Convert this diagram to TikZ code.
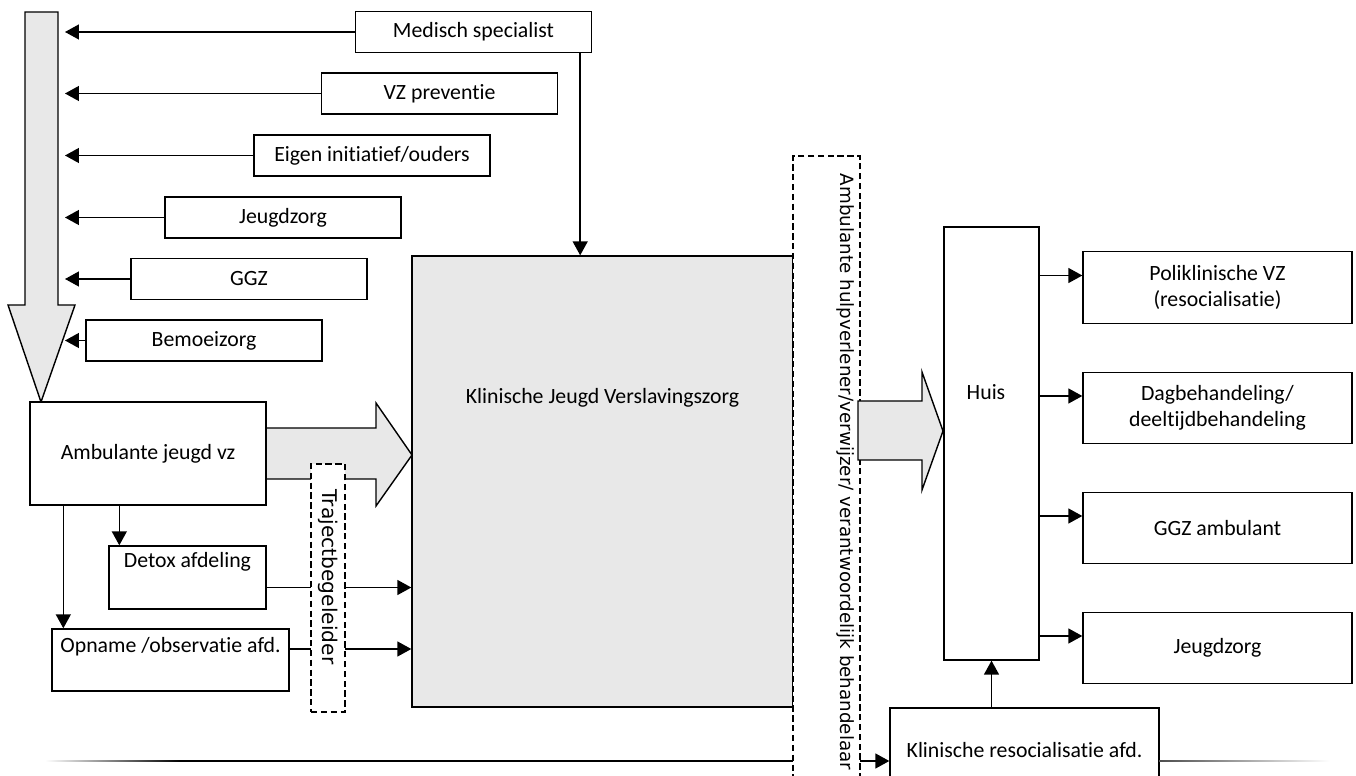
\documentclass[tikz,border=0pt]{standalone}
\usepackage{fontspec}
\setmainfont{Carlito}[Ligatures={NoCommon}]
\newfontfamily\rotfont{DejaVu Sans}
\usepackage{xcolor}
\definecolor{flowgrey}{RGB}{232,232,232}
\usetikzlibrary{arrows.meta, positioning, calc}

\begin{document}
\begin{tikzpicture}[
  x=0.02cm, y=-0.02cm,
  line width=0.8pt,
  font=\fontsize{12.4}{15}\selectfont,
  box/.style={draw, fill=white, inner sep=0pt, align=center,
    minimum width=4.72cm, minimum height=0.82cm},
  greybox/.style={box, fill=flowgrey},
  dashbox/.style={draw, fill=white, inner sep=0pt,
    dash pattern=on 3.6pt off 2pt},
  sidetext/.style={rotate=-90, inner sep=0pt, font=\rotfont\fontsize{#1}{14}\selectfont},
  arr/.style={-{Triangle[length=0.28cm, width=0.3cm]}},
]
\useasboundingbox (0,0) rectangle (1356,776);

\node[box] (med) at (473.5,32) {Medisch specialist};
\node[box] (vzp) at (439.5,93.5) {VZ preventie};
\node[box] (eigen) at (372,155.5) {Eigen initiatief/ouders};
\node[box] (jzin) at (283,217.5) {Jeugdzorg};
\node[box] (ggz) at (249,279) {GGZ};
\node[box] (bemoei) at (204,340.5) {Bemoeizorg};

\filldraw[fill=flowgrey] (25,12) -- (58,12) -- (58,305) -- (75,305) -- (41,402)
  -- (8,305) -- (25,305) -- cycle;

\coordinate (inflow) at (65,0);
\foreach \n in {med,vzp,eigen,jzin,ggz,bemoei}
  \draw[arr] (\n) -- (\n -| inflow);

\node[greybox, minimum width=7.62cm, minimum height=9.02cm] (kjv) at (602.5,481.5) {};
\node (kjvtxt) at (602.5,398) {Klinische Jeugd Verslavingszorg};

\coordinate (medout) at ($(med.south east)+(-12,0)$);
\draw[arr] (medout) -- (medout |- kjv.north);

\filldraw[fill=flowgrey] (266,428) -- (376,428) -- (376,403) -- (412,455)
  -- (376,506) -- (376,479) -- (266,479) -- cycle;
\node[box, minimum height=2.06cm] (amb) at (148,453.5) {Ambulante jeugd vz};

\node[box, minimum width=3.14cm, minimum height=1.26cm] (detox) at (187.5,577.5) {};
\node (detoxtxt) at ($(detox.north)+(0,17)$) {Detox afdeling};
\node[box, minimum width=4.74cm, minimum height=1.24cm] (opn) at (170.5,660) {};
\node (opntxt) at ($(opn.north)+(0,18)$) {Opname /observatie afd.};

\coordinate (todetox) at ($(amb.south west)+(90,0)$);
\coordinate (toopn) at ($(amb.south west)+(34,0)$);
\draw[arr] (todetox) -- (todetox |- detox.north);
\draw[arr] (toopn) -- (toopn |- opn.north);

\coordinate (detoxout) at ($(detox.east)+(0,10)$);
\coordinate (opnout) at ($(opn.east)+(0,-11)$);
\draw[arr] (detoxout) -- (detoxout -| kjv.west);
\draw[arr] (opnout) -- (opnout -| kjv.west);

\node[dashbox, minimum width=0.68cm, minimum height=4.96cm] (traj) at (328,588) {};
\node[sidetext=11.5] (trajtxt) at (328,577) {Trajectbegeleider};

\node[box, minimum width=1.9cm, minimum height=8.66cm] (huis) at (991.5,443.5) {};
\node (huistxt) at (986,392) {Huis};

\node[box, minimum width=5.38cm, minimum height=1.7cm] (reso) at (1024.5,750.5) {Klinische resocialisatie afd.};
\draw[arr] (reso.north -| huis.south) -- (huis.south);

\coordinate (botline) at (180,761);
\shade[left color=white, right color=black] (45,760.4) rectangle (180,761.6);
\draw[arr] (botline) -- (botline -| reso.west);
\shade[left color=black!70, right color=white] (1159,760.4) rectangle (1330,761.6);

\node[dashbox, minimum width=1.34cm, minimum height=12.9cm] (ahv) at (826.5,478.5) {};
\node[sidetext=10.4] (ahvtxt) at (846,472) {Ambulante hulpverlener/verwijzer/ verantwoordelijk behandelaar};

\filldraw[fill=flowgrey] (858,401) -- (922,401) -- (922,372) -- (943,431)
  -- (922,490) -- (922,460) -- (858,460) -- cycle;

\node[box, minimum width=5.38cm, minimum height=1.43cm] (poli) at (1217.5,287.5) {Poliklinische VZ\\(resocialisatie)};
\node[box, minimum width=5.38cm, minimum height=1.43cm] (dag) at (1217.5,408) {Dagbehandeling/\\deeltijdbehandeling};
\node[box, minimum width=5.38cm, minimum height=1.43cm] (ggza) at (1217.5,528) {GGZ ambulant};
\node[box, minimum width=5.38cm, minimum height=1.43cm] (jzout) at (1217.5,648) {Jeugdzorg};

\foreach \n in {poli,dag,ggza,jzout} {
  \coordinate (tip) at ($(\n.west)+(0,-12)$);
  \draw[arr] (tip -| huis.east) -- (tip);
}
\end{tikzpicture}
\end{document}
